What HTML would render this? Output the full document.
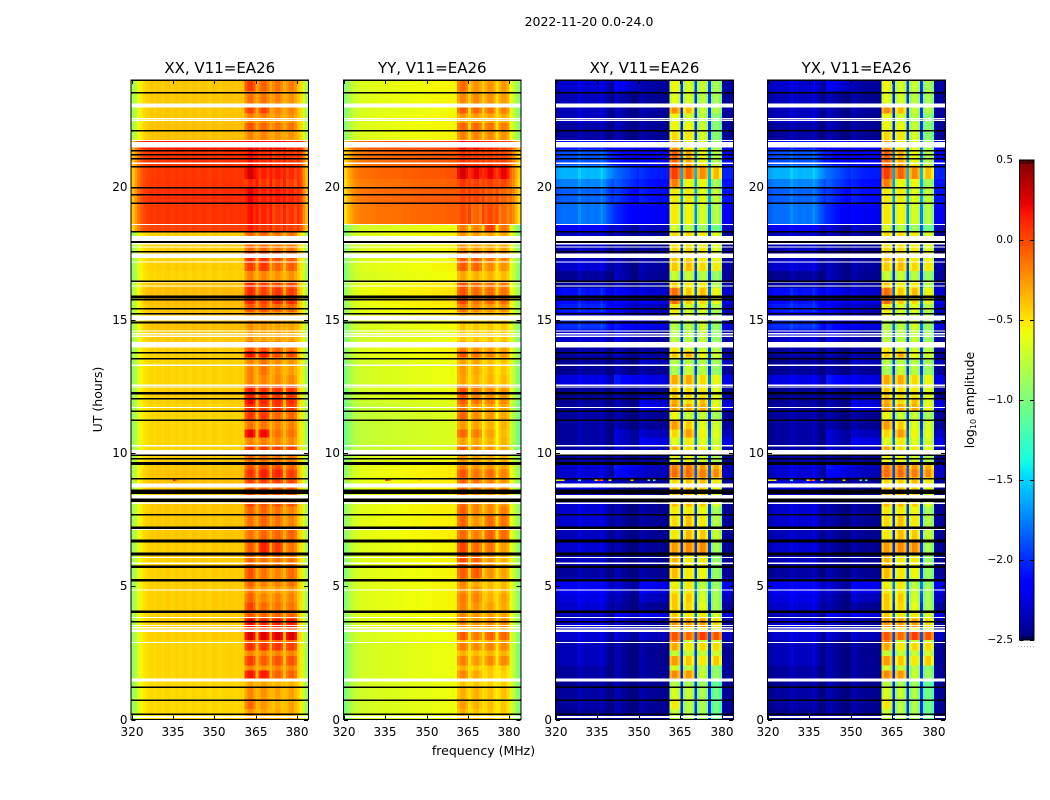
<!DOCTYPE html>
<html lang="en">
<head>
<meta charset="utf-8">
<title>2022-11-20 0.0-24.0</title>
<style>
html,body{margin:0;padding:0;background:#fff;}
svg{display:block;font-family:"DejaVu Sans","Liberation Sans",sans-serif;fill:#000;}
svg text{font-family:"DejaVu Sans","Liberation Sans",sans-serif;}
</style>
</head>
<body>
<svg id="figure" xmlns="http://www.w3.org/2000/svg" width="1050" height="800" viewBox="0 0 1050 800">
  <rect x="0" y="0" width="1050" height="800" fill="#fff"></rect>
  <text x="589" y="26" font-size="12.5" text-anchor="middle">2022-11-20 0.0-24.0</text>
  <text x="0" y="0" font-size="12.5" text-anchor="middle" transform="translate(102,399.5) rotate(-90)">UT (hours)</text>
  <text x="483.5" y="755" font-size="12.5" text-anchor="middle">frequency (MHz)</text>
  <text x="0" y="0" font-size="12.5" text-anchor="middle" transform="translate(974,400) rotate(-90)">log<tspan font-size="8" dy="2">10</tspan><tspan dy="-2"> amplitude</tspan></text>
  <g id="panels"></g>
  <g id="colorbar"></g>
</svg>
<script>
// ---- axis data ----
const xTickLabels = [320, 335, 350, 365, 380];
const yTickLabels = [0, 5, 10, 15, 20];
const colorbarTicks = [0.5, 0, -0.5, -1, -1.5, -2, -2.5];
const panelTitles = ["XX, V11=EA26", "YY, V11=EA26", "XY, V11=EA26", "YX, V11=EA26"];

// ---- heatmap data: start of each UT row (hours) ----
const utRows = [0,0.4,0.8,1.2,1.5,1.85,2.05,2.4,2.6,2.9,3,3.3,3.45,3.8,4.05,4.4,4.75,5,5.3,5.75,6.25,6.7,7.2,7.7,8,8.6,8.85,9.1,9.4,9.65,9.95,10.3,10.6,10.9,11.25,11.6,11.85,12.1,12.55,12.95,13.3,13.6,13.85,14.2,14.65,15,15.3,15.6,15.9,16.2,16.5,16.85,17.25,17.6,18.3,18.6,19.4,19.95,20.3,20.8,21.4,21.75,22.1,22.4,22.75,23.1,23.6];

// log10 amplitude per UT row: [low channels, band1, band2, band3, band4]
const xxRows = [
[-.46,-.25,-.3,-.32,-.3],[-.46,-.12,-.25,-.35,-.3],[-.46,-.22,-.25,-.3,-.3],[-.46,-.3,-.3,-.35,-.35],
[-.45,.14,.14,-.1,-.1],[-.45,-.2,-.25,-.2,-.2],[-.45,.02,-.08,-.05,-.05],[-.45,-.2,-.2,-.2,-.2],
[-.45,.07,.05,.05,.02],[-.45,-.1,-.1,-.1,-.1],[-.43,.24,.24,.24,.24],[-.43,.1,.05,.05,.05],
[-.43,.18,.08,.12,.12],[-.43,-.05,-.1,-.1,-.1],[-.43,.0,-.12,-.15,-.15],[-.43,-.1,-.2,-.2,-.2],
[-.43,-.18,-.28,-.28,-.25],[-.43,-.1,-.2,-.2,-.15],[-.43,-.05,-.15,-.2,-.12],[-.43,-.1,-.15,-.15,-.15],
[-.43,-.08,.12,.02,-.15],[-.41,-.15,-.1,-.1,-.1],[-.41,-.15,-.1,-.15,-.2],[-.41,-.1,-.1,-.15,-.2],
[-.41,.0,-.05,-.05,-.05],[-.41,-.05,-.05,-.05,-.05],[-.39,.0,.02,.02,.0],[-.39,.05,.12,.1,.02],
[-.41,-.05,.0,-.02,-.1],[-.43,-.1,-.12,-.15,-.15],[-.45,.05,.05,.02,.02],[-.45,-.2,-.18,-.22,-.22],
[-.45,.2,.18,-.15,-.15],[-.45,-.15,-.15,-.2,-.2],[-.45,.05,.05,-.1,-.1],[-.45,.08,.05,.05,.02],
[-.43,.18,.1,.08,.08],[-.43,.12,.05,.05,.05],[-.45,-.2,-.2,-.22,-.22],[-.45,-.2,-.15,-.25,-.28],
[-.45,-.2,-.15,-.22,-.25],[-.43,.15,.12,-.02,-.02],[-.43,-.05,-.05,-.1,-.15],[-.41,-.25,-.3,-.3,-.3],
[-.39,-.25,-.28,-.3,-.3],[-.39,-.2,-.22,-.25,-.25],[-.39,-.05,-.05,-.1,-.1],[-.37,.1,.02,.08,.08],
[-.37,.08,.0,.05,.02],[-.39,.08,.02,-.02,-.02],[-.45,-.2,-.2,-.25,-.25],[-.43,.02,.05,-.1,-.08],
[-.45,.1,.1,.0,-.05],[-.43,-.1,-.1,-.15,-.15],[.02,.12,.05,.02,.02],[.06,.15,.1,.05,.05],
[.08,.22,.12,.14,.1],[.06,.1,.05,.05,.02],[.05,.26,.12,.12,.08],[.06,.16,.08,.05,.05],
[.14,.22,.16,.2,.1],[-.39,-.2,-.2,-.25,-.25],[-.39,-.05,-.1,-.15,-.15],[-.41,-.2,-.2,-.25,-.25],
[-.41,.0,.0,-.2,-.2],[-.41,-.15,-.15,-.2,-.25],[-.41,.02,-.1,-.15,-.18]
];

const yyRows = [
[-.62,-.35,-.4,-.42,-.42],[-.62,-.28,-.35,-.4,-.42],[-.62,-.35,-.35,-.4,-.4],[-.62,-.42,-.42,-.45,-.45],
[-.62,-.22,-.32,-.42,-.45],[-.62,-.35,-.42,-.4,-.42],[-.62,-.2,-.28,-.22,-.22],[-.62,-.35,-.38,-.35,-.35],
[-.62,-.18,-.22,-.2,-.22],[-.62,-.38,-.38,-.32,-.32],[-.6,-.08,-.18,-.1,-.1],[-.6,-.35,-.35,-.32,-.32],
[-.58,-.22,-.25,-.22,-.22],[-.58,-.22,-.25,-.28,-.3],[-.58,-.2,-.25,-.3,-.32],[-.58,-.18,-.2,-.35,-.3],
[-.58,-.25,-.25,-.38,-.36],[-.58,-.22,-.32,-.38,-.38],[-.58,-.08,-.08,-.25,-.3],[-.58,-.03,-.1,-.25,-.35],
[-.58,.0,-.12,-.15,-.28],[-.56,-.12,-.18,-.08,-.12],[-.56,-.1,-.25,-.12,-.15],[-.56,-.08,-.2,-.22,-.18],
[-.56,-.12,-.2,-.22,-.25],[-.56,-.1,-.15,-.2,-.2],[-.55,-.1,-.15,-.2,-.25],[-.55,-.05,-.15,-.12,-.2],
[-.56,-.2,-.25,-.25,-.3],[-.6,-.25,-.3,-.32,-.35],[-.68,-.1,-.2,-.25,-.32],[-.68,-.3,-.3,-.35,-.35],
[-.68,-.12,-.18,-.3,-.38],[-.68,-.28,-.3,-.35,-.35],[-.68,-.1,-.22,-.25,-.3],[-.68,-.18,-.28,-.28,-.3],
[-.65,-.08,-.15,-.18,-.22],[-.62,-.05,-.18,-.22,-.25],[-.62,-.3,-.35,-.35,-.38],[-.62,-.28,-.32,-.38,-.42],
[-.62,-.3,-.3,-.38,-.42],[-.58,-.05,-.15,-.2,-.25],[-.58,-.2,-.25,-.28,-.3],[-.62,-.42,-.42,-.42,-.42],
[-.6,-.42,-.42,-.42,-.42],[-.55,-.3,-.32,-.35,-.35],[-.55,-.15,-.22,-.25,-.25],[-.53,.0,-.15,-.1,-.12],
[-.53,-.05,-.12,-.12,-.15],[-.55,-.05,-.12,-.15,-.18],[-.6,-.32,-.35,-.35,-.38],[-.58,-.08,-.1,-.22,-.25],
[-.6,-.05,-.05,-.12,-.18],[-.58,-.25,-.28,-.3,-.3],[-.62,-.18,-.2,.02,-.15],[-.1,-.02,-.1,-.02,-.12],
[-.08,.0,.0,-.05,-.1],[-.1,.05,.02,.03,.0],[-.06,.25,.2,.2,.2],[-.08,.05,.02,.02,.0],
[-.02,.2,.18,.1,.02],[-.58,-.2,-.2,-.22,-.25],[-.58,-.1,-.12,-.15,-.18],[-.58,-.28,-.28,-.3,-.32],
[-.6,-.08,-.12,-.15,-.2],[-.58,-.22,-.22,-.25,-.28],[-.58,-.12,-.25,-.25,-.28]
];

// log10 amplitude per UT row: [low, mid, high channels, band1, band2, band3, band4]
const xyRows = [
[-2.46,-2.45,-2.46,-.75,-.8,-.85,-1.05],[-2.42,-2.45,-2.45,-.55,-.8,-.85,-1.05],[-2.42,-2.45,-2.45,-.7,-.75,-.85,-1.05],[-2.45,-2.45,-2.46,-.8,-.85,-.9,-1.1],
[-2.42,-2.45,-2.45,-.25,-.3,-.75,-.9],[-2.42,-2.45,-2.45,-.7,-.75,-.8,-.95],[-2.35,-2.45,-2.45,-.3,-.45,-.55,-.45],[-2.35,-2.45,-2.46,-.75,-.75,-.75,-.7],
[-2.35,-2.45,-2.45,-.35,-.55,-.5,-.5],[-2.35,-2.45,-2.45,-.2,-.7,-.75,-.7],[-2.3,-2.35,-2.35,-.08,-.15,.0,-.08],[-2.3,-2.35,-2.42,-.6,-.6,-.65,-.7],
[-2.3,-2.35,-2.42,-.28,-.3,-.3,-.5],[-2.35,-2.25,-2.25,-.45,-.55,-.55,-.7],[-2.3,-2.45,-2.45,-.45,-.5,-.65,-.85],[-2.25,-2.42,-2.35,-.45,-.45,-.7,-.85],
[-2.2,-2.35,-2.25,-.55,-.55,-.75,-.85],[-2.2,-2.35,-2.2,-.6,-.55,-.8,-.9],[-2.42,-2.45,-2.45,-.4,-.55,-.6,-.9],[-2.35,-2.45,-2.45,-.38,-.55,-.55,-.9],
[-2.3,-2.45,-2.45,-.3,-.25,-.25,-.85],[-2.35,-2.45,-2.45,-.55,-.4,-.45,-.75],[-2.3,-2.45,-2.45,-.5,-.42,-.55,-.8],[-2.3,-2.45,-2.45,-.55,-.55,-.6,-.85],
[-2.3,-2.45,-2.45,-.4,-.4,-.45,-.65],[-2.25,-2.45,-2.45,-.4,-.4,-.45,-.6],[-2.3,-2.45,-2.45,-.5,-.45,-.4,-.55],[-2.3,-2.2,-2.35,-.15,-.15,-.2,-.25],
[-2.3,-2.15,-2.35,-.2,-.2,-.3,-.35],[-2.42,-2.45,-2.45,-.6,-.6,-.7,-.8],[-2.42,-2.35,-2.35,-.35,-.5,-.55,-.65],[-2.42,-2.35,-2.25,-.65,-.55,-.65,-.7],
[-2.42,-2.35,-2.35,-.5,-.3,-.6,-.65],[-2.42,-2.45,-2.45,-.3,-.45,-.65,-.7],[-2.42,-2.45,-2.45,-.6,-.75,-.75,-.85],[-2.42,-2.45,-2.25,-.3,-.35,-.35,-.6],
[-2.45,-2.45,-2.3,-.35,-.5,-.4,-.65],[-2.45,-2.45,-2.45,-.45,-.5,-.55,-.65],[-2.25,-2.15,-2.25,-.35,-.35,-.5,-.6],[-2.45,-2.45,-2.45,-.85,-.75,-.8,-.9],
[-2.45,-2.45,-2.35,-.8,-.8,-.8,-.85],[-2.42,-2.42,-2.42,-.45,-.35,-.6,-.7],[-2.42,-2.45,-2.45,-.55,-.7,-.75,-.8],[-2.3,-2.3,-2.42,-.8,-.8,-.75,-.9],
[-2.0,-2.15,-2.25,-.8,-.8,-.7,-.9],[-2.2,-2.3,-2.35,-.6,-.7,-.75,-.85],[-2.05,-2.25,-2.35,-.55,-.7,-.65,-.8],[-2.1,-2.2,-2.25,-.15,-.45,-.5,-.6],
[-2.1,-2.2,-2.3,-.15,-.45,-.4,-.6],[-2.42,-2.42,-2.42,-.45,-.55,-.55,-.8],[-2.45,-2.42,-2.45,-.75,-.75,-.8,-.9],[-2.3,-2.42,-2.42,-.45,-.4,-.5,-.55],
[-2.35,-2.45,-2.45,-.4,-.45,-.55,-.6],[-2.35,-2.42,-2.45,-.5,-.5,-.55,-.65],[-2.2,-2.35,-2.35,-.7,-.8,-.9,-1.05],[-1.8,-2.1,-2.2,-.55,-.6,-.7,-.8],
[-1.85,-2.05,-2.1,-.55,-.55,-.65,-.75],[-1.75,-1.95,-2.1,-.2,-.6,-.6,-.85],[-1.6,-1.9,-2.05,.0,-.12,-.25,-.4],[-1.9,-2.15,-2.2,-.12,-.35,-.6,-.8],
[-2.1,-2.2,-2.25,-.3,-.55,-.65,-.85],[-2.42,-2.45,-2.45,-.5,-.55,-.7,-.95],[-2.42,-2.42,-2.45,-.6,-.6,-.75,-.95],[-2.35,-2.42,-2.45,-.6,-.7,-.8,-.95],
[-2.35,-2.42,-2.42,-.25,-.4,-.75,-.8],[-2.35,-2.42,-2.45,-.65,-.7,-.8,-.85],[-2.3,-2.25,-2.42,-.6,-.7,-.75,-.85]
];
const yxRows = xyRows.map(function (row) { return row.slice(); });

// channel offsets in log10 amplitude, one per 1 MHz channel, 320..383 MHz
const xxChannelOffsets = [-.46,-.33,-.2,-.12,-.06,-.03,-.01,.01,-.02,.01,.0,-.02,.01,.02,-.01,.0,.02,-.01,.01,.02,.0,-.01,.02,.01,-.01,.01,.02,.0,-.02,.02,.02,.0,-.01,.02,.01,.02,.02,.0,.01,.02,.0,
  -.08,.02,.04,-.06,.1,-.06,.02,.03,-.06,.1,-.06,.02,.03,-.06,.08,-.06,.02,.03,-.06,.03,-.06,-.26,-.42];
const yyChannelOffsets = [-.38,-.28,-.2,-.14,-.1,-.08,-.07,-.06,-.06,-.05,-.05,-.04,-.04,-.04,-.03,-.03,-.03,-.02,-.02,-.02,-.02,-.01,-.01,-.01,0,0,0,0,.01,.01,.01,.01,.02,.02,.02,.02,.02,.03,.03,.03,.03,
  -.06,.02,.04,-.06,.14,-.06,.02,.03,-.06,.14,-.06,.02,.03,-.06,.1,-.06,.02,.03,-.06,-.03,-.12,-.25,-.38];
const xyChannelOffsets = [-.05,-.02,0,0,0,0,.0,0,.1,.02,.03,0,.02,.02,.02,.02,.1,.02,-.05,-.1,-.16,.1,.08,.05,.02,0,-.02,-.05,-.08,-.1,.08,.06,.04,.02,.01,.01,0,0,0,0,0,
  -.1,.05,.05,-.12,.42,-.12,.05,.05,-.12,.46,-.12,.05,.05,-.12,.46,-.12,.05,.05,-.16,.02,.02,.02,.02];

// column group of each channel: index into a row of the table above
const xxChannelGroups = [0,0,0,0,0,0,0,0,0,0,0,0,0,0,0,0,0,0,0,0,0,0,0,0,0,0,0,0,0,0,0,0,0,0,0,0,0,0,0,0,0,
  1,1,1,1,0,2,2,2,2,0,3,3,3,3,0,4,4,4,4,0,0,0,0];
const xyChannelGroups = [0,0,0,0,0,0,0,0,0,0,0,0,0,0,0,0,0,0,0,0,0,1,1,1,1,1,1,1,1,1,2,2,2,2,2,2,2,2,2,2,2,
  3,3,3,3,2,4,4,4,4,2,5,5,5,5,2,6,6,6,6,2,2,2,2];

// flagged UT intervals (hours): black = zero-amplitude rows, white = no data
const blackFlagTimes = [23.52,22.09,21.34,21.2,21.05,20.74,19.96,19.69,19.38,18.31,17.92,17.56,16.44,15.86,15.76,15.42,15.23,14.9,13.77,13.54,12.24,12.04,11.57,11.23,9.92,9.79,9.61,9.04,8.55,8.23,7.69,7.19,6.7,6.21,5.73,5.23,4.04,3.67,1.21,.72,.19,23.98];
const blackFlagHours = [.06,.06,.06,.06,.06,.06,.06,.06,.06,.06,.06,.06,.06,.12,.06,.06,.06,.07,.06,.06,.1,.06,.06,.06,.06,.06,.1,.06,.18,.14,.06,.1,.1,.1,.1,.1,.1,.06,.06,.06,.06,.05];
const whiteFlagTimes = [23.04,22.54,22.48,21.73,21.57,20.88,18.58,18.04,17.86,17.73,17.4,17.17,16.42,16.27,15.07,14.58,14.48,14.38,14.07,13.29,12.54,12.48,11.71,10.27,10.03,8.78,8.36,8.11,7.13,6.08,5.86,4.86,3.83,3.53,3.44,3.33,2.89,1.48,.1];
const whiteFlagHours = [.16,.05,.05,.05,.19,.05,.05,.2,.05,.05,.16,.05,.05,.05,.19,.05,.05,.05,.2,.05,.05,.05,.05,.05,.16,.15,.14,.05,.05,.05,.05,.05,.05,.05,.05,.09,.05,.1,.08];

// isolated bright samples: UT row, channel frequency and log10 amplitude
const rfiTimes = [8.98,8.98,8.98,8.98,8.98,8.98,8.98,8.98,8.98,8.98,8.98];
const rfiChannels = [320,321,322,328,334,335,336,339,347,353,355];
const rfiValues = [-.6,-.4,-.5,-1.2,-.6,.15,-.2,-.5,-.4,-1.1,-1.2];

// ---- scales ----
const UT_MAX = 24, MHZ_MIN = 320, MHZ_MAX = 384, V_MIN = -2.5, V_MAX = 0.5;
const AXIS_TOP = 80, AXIS_BOTTOM = 719.5;
function utToY(u) { return AXIS_BOTTOM - (AXIS_BOTTOM - AXIS_TOP) * u / UT_MAX; }
function freqToX(left, right, f) { return left + (right - left) * (f - MHZ_MIN) / (MHZ_MAX - MHZ_MIN); }
function ramp(t, pts) {
  for (let i = 1; i < pts.length; i++) {
    if (t <= pts[i][0]) {
      const a = pts[i - 1], b = pts[i];
      return a[1] + (b[1] - a[1]) * (t - a[0]) / (b[0] - a[0]);
    }
  }
  return pts[pts.length - 1][1];
}
function jet(v) {
  const t = Math.max(0, Math.min(1, (v - V_MIN) / (V_MAX - V_MIN)));
  const r = ramp(t, [[0, 0], [.35, 0], [.66, 1], [.89, 1], [1, .5]]);
  const g = ramp(t, [[0, 0], [.125, 0], [.375, 1], [.64, 1], [.91, 0], [1, 0]]);
  const b = ramp(t, [[0, .5], [.11, 1], [.34, 1], [.65, 0], [1, 0]]);
  return 'rgb(' + Math.round(r * 255) + ',' + Math.round(g * 255) + ',' + Math.round(b * 255) + ')';
}
function label(v) { return String(v).replace('-', '\u2212'); }

const NS = 'http://www.w3.org/2000/svg';
function make(parent, tag, attrs) {
  const el = document.createElementNS(NS, tag);
  for (const k in attrs) el.setAttribute(k, attrs[k]);
  parent.appendChild(el);
  return el;
}

const panelDefs = [
  { key: 'xx', left: 131.5, right: 308, rows: xxRows, offsets: xxChannelOffsets, groups: xxChannelGroups, rfiFloor: -.45 },
  { key: 'yy', left: 344, right: 520.5, rows: yyRows, offsets: yyChannelOffsets, groups: xxChannelGroups, rfiFloor: -.45 },
  { key: 'xy', left: 556, right: 733, rows: xyRows, offsets: xyChannelOffsets, groups: xyChannelGroups, rfiFloor: V_MIN },
  { key: 'yx', left: 768, right: 945, rows: yxRows, offsets: xyChannelOffsets, groups: xyChannelGroups, rfiFloor: V_MIN }
];

const panelsRoot = document.getElementById('panels');
panelDefs.forEach(function (p, pi) {
  const g = make(panelsRoot, 'g', {});
  
  

  const cells = make(g, 'g', { 'shape-rendering': 'crispEdges' });
  
  

  utRows.forEach(function (u, r) {
    const uEnd = r + 1 < utRows.length ? utRows[r + 1] : UT_MAX;
    const y0 = utToY(uEnd), y1 = utToY(u);
    const row = p.rows[r];
    for (let c = 0; c < p.offsets.length; c++) {
      const x0 = freqToX(p.left, p.right, MHZ_MIN + c);
      const x1 = freqToX(p.left, p.right, MHZ_MIN + c + 1);
      const cell = make(cells, 'rect', {
        x: x0.toFixed(2), y: y0.toFixed(2),
        width: (x1 - x0 + .4).toFixed(2), height: (y1 - y0 + .4).toFixed(2),
        fill: jet(row[p.groups[c]] + p.offsets[c])
      });
      
      
    }
  });

  rfiTimes.forEach(function (u, i) {
    if (rfiValues[i] < p.rfiFloor) return;
    const x0 = freqToX(p.left, p.right, rfiChannels[i]);
    const x1 = freqToX(p.left, p.right, rfiChannels[i] + 1);
    const speck = make(cells, 'rect', {
      x: x0.toFixed(2), y: (utToY(u) - .5).toFixed(2),
      width: (x1 - x0).toFixed(2), height: 1.5,
      fill: jet(rfiValues[i])
    });
    
    
  });

  whiteFlagTimes.forEach(function (u, i) {
    const y0 = utToY(u + whiteFlagHours[i] / 2), y1 = utToY(u - whiteFlagHours[i] / 2);
    const bar = make(cells, 'rect', { x: p.left, y: y0.toFixed(2), width: p.right - p.left, height: Math.max(1, y1 - y0).toFixed(2), fill: '#fff' });
    
    
  });
  blackFlagTimes.forEach(function (u, i) {
    const y0 = utToY(u + blackFlagHours[i] / 2), y1 = utToY(u - blackFlagHours[i] / 2);
    const bar = make(cells, 'rect', { x: p.left, y: y0.toFixed(2), width: p.right - p.left, height: Math.max(1, y1 - y0).toFixed(2), fill: '#000' });
    
    
  });

  // frame
  const frame = make(g, 'rect', {
    x: p.left - .5, y: AXIS_TOP, width: p.right - p.left + 1, height: AXIS_BOTTOM - AXIS_TOP,
    fill: 'none', stroke: '#000', 'stroke-width': 1
  });
  
  

  // title
  const title = make(g, 'text', { x: (p.left + p.right) / 2, y: 73, 'font-size': 15, 'text-anchor': 'middle' });
  title.textContent = panelTitles[pi];
  
  

  // x ticks
  xTickLabels.forEach(function (f) {
    const x = Math.round(freqToX(p.left, p.right, f)) + .5;
    const t1 = make(g, 'line', { x1: x, x2: x, y1: AXIS_BOTTOM, y2: AXIS_BOTTOM - 4, stroke: '#000', 'stroke-width': 1 });
    
    
    const t2 = make(g, 'line', { x1: x, x2: x, y1: AXIS_TOP, y2: AXIS_TOP + 4, stroke: '#000', 'stroke-width': 1 });
    
    
    const txt = make(g, 'text', { x: x - .5, y: 736, 'font-size': 12, 'text-anchor': 'middle' });
    txt.textContent = f;
    
    
  });

  // y ticks
  yTickLabels.forEach(function (u) {
    const y = Math.round(utToY(u)) + .5;
    const t1 = make(g, 'line', { x1: p.left, x2: p.left + 4, y1: y, y2: y, stroke: '#000', 'stroke-width': 1 });
    
    
    const t2 = make(g, 'line', { x1: p.right, x2: p.right - 4, y1: y, y2: y, stroke: '#000', 'stroke-width': 1 });
    
    
    const txt = make(g, 'text', { x: p.left - 4, y: y + 3.5, 'font-size': 12, 'text-anchor': 'end' });
    txt.textContent = u;
    
    
  });
});

// ---- colorbar ----
const CB_LEFT = 1019.5, CB_RIGHT = 1034, CB_TOP = 160, CB_BOTTOM = 640;
function valueToCbY(v) { return CB_BOTTOM - (CB_BOTTOM - CB_TOP) * (v - V_MIN) / (V_MAX - V_MIN); }
const cb = document.getElementById('colorbar');
const cbCells = make(cb, 'g', { 'shape-rendering': 'crispEdges' });


for (let i = 0; i < 240; i++) {
  const v0 = V_MIN + (V_MAX - V_MIN) * i / 240, v1 = V_MIN + (V_MAX - V_MIN) * (i + 1) / 240;
  const step = make(cbCells, 'rect', {
    x: CB_LEFT, y: valueToCbY(v1).toFixed(2), width: CB_RIGHT - CB_LEFT,
    height: (valueToCbY(v0) - valueToCbY(v1) + .5).toFixed(2), fill: jet((v0 + v1) / 2)
  });
  
  
}
const cbFrame = make(cb, 'rect', { x: CB_LEFT, y: CB_TOP, width: CB_RIGHT - CB_LEFT, height: CB_BOTTOM - CB_TOP, fill: 'none', stroke: '#000', 'stroke-width': 1 });


colorbarTicks.forEach(function (v) {
  const y = Math.round(valueToCbY(v)) + .5;
  const t1 = make(cb, 'line', { x1: CB_LEFT, x2: CB_LEFT + 4, y1: y, y2: y, stroke: '#000', 'stroke-width': 1 });
  
  
  const t2 = make(cb, 'line', { x1: CB_RIGHT, x2: CB_RIGHT - 4, y1: y, y2: y, stroke: '#000', 'stroke-width': 1 });
  
  
  const txt = make(cb, 'text', { x: 1013, y: y + 2.5, 'font-size': 10.5, 'text-anchor': 'end' });
  txt.textContent = v === 0 ? '0.0' : label(v.toFixed(1));
  
  
});
for (let i = 0; i < 6; i++) {
  const x = CB_LEFT + 2.5 + i * 2;
  const topTick = make(cb, 'line', { x1: x, x2: x, y1: CB_TOP, y2: CB_TOP + 4, stroke: '#000', 'stroke-width': .8 });
  
  
  const bottomTick = make(cb, 'line', { x1: x, x2: x, y1: CB_BOTTOM, y2: CB_BOTTOM - 4, stroke: '#000', 'stroke-width': .8 });
  
  
  const dot = make(cb, 'rect', { x: 1018 + i * 3, y: 646, width: 1, height: 1, fill: '#aaa' });
  
  
}
</script>
</body>
</html>
